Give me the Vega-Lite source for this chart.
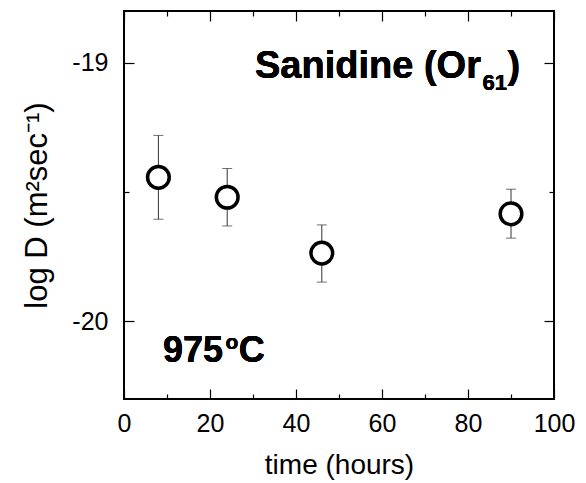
{
  "$schema": "https://vega.github.io/schema/vega-lite/v6.json",
  "width": 430,
  "height": 388,
  "autosize": {"type": "none"},
  "padding": {"left": 124, "top": 11, "right": 32, "bottom": 84},
  "background": "white",
  "config": {
    "view": {"stroke": "black", "strokeWidth": 2},
    "axis": {
      "domain": false,
      "grid": false,
      "labelFont": "Liberation Sans",
      "titleFont": "Liberation Sans",
      "labelColor": "black",
      "titleColor": "black",
      "tickColor": "black",
      "tickWidth": 1.2,
      "labelFontSize": 25,
      "titleFontSize": 28,
      "titleFontWeight": "normal"
    }
  },
  "data": {
    "values": [
      {"time": 8, "logD": -19.443, "lo": -19.605, "hi": -19.281},
      {"time": 24, "logD": -19.52, "lo": -19.631, "hi": -19.409},
      {"time": 46, "logD": -19.736, "lo": -19.848, "hi": -19.627},
      {"time": 90, "logD": -19.584, "lo": -19.678, "hi": -19.489}
    ]
  },
  "resolve": {"scale": {"x": "shared", "y": "shared"}, "axis": {"x": "independent", "y": "independent"}},
  "layer": [
    {
      "mark": {"type": "rule", "color": "#333", "strokeWidth": 1},
      "encoding": {
        "x": {
          "field": "time", "type": "quantitative",
          "scale": {"domain": [0, 100], "nice": false, "zero": false},
          "axis": {
            "orient": "bottom",
            "title": "time (hours)",
            "values": [0, 10, 20, 30, 40, 50, 60, 70, 80, 90, 100],
            "labelExpr": "datum.value % 20 === 0 ? datum.label : ''",
            "tickSize": {"condition": {"test": "datum.value % 20 === 0", "value": -10}, "value": -5},
            "labelPadding": 22,
            "titlePadding": 10,
            "labelFlush": false,
            "labelOverlap": false
          }
        },
        "y": {
          "field": "lo", "type": "quantitative",
          "scale": {"domain": [-20.3, -18.8], "nice": false, "zero": false},
          "axis": {
            "orient": "left",
            "title": "log D (m²sec⁻¹)",
            "titleFontSize": 31,
            "values": [-20, -19.5, -19],
            "labelExpr": "datum.value % 1 === 0 ? '-' + abs(datum.value) : ''",
            "tickSize": {"condition": {"test": "datum.value % 1 === 0", "value": -10}, "value": -5},
            "labelPadding": 26,
            "titlePadding": 18,
            "labelFlush": false,
            "labelOverlap": false
          }
        },
        "y2": {"field": "hi"}
      }
    },
    {
      "mark": {"type": "tick", "orient": "horizontal", "color": "#333", "thickness": 1, "size": 10},
      "encoding": {
        "x": {
          "field": "time", "type": "quantitative",
          "axis": {
            "orient": "top",
            "title": null,
            "labels": false,
            "values": [0, 10, 20, 30, 40, 50, 60, 70, 80, 90, 100],
            "tickSize": {"condition": {"test": "datum.value % 20 === 0", "value": -10}, "value": -5}
          }
        },
        "y": {
          "field": "lo", "type": "quantitative",
          "axis": {
            "orient": "right",
            "title": null,
            "labels": false,
            "values": [-20, -19.5, -19],
            "tickSize": {"condition": {"test": "datum.value % 1 === 0", "value": -10}, "value": -5}
          }
        }
      }
    },
    {
      "mark": {"type": "tick", "orient": "horizontal", "color": "#333", "thickness": 1, "size": 10},
      "encoding": {
        "x": {"field": "time", "type": "quantitative", "axis": null},
        "y": {"field": "hi", "type": "quantitative", "axis": null}
      }
    },
    {
      "mark": {"type": "point", "shape": "circle", "filled": false, "fill": "white", "fillOpacity": 1, "stroke": "black", "strokeWidth": 3.5, "size": 470, "opacity": 1},
      "encoding": {
        "x": {"field": "time", "type": "quantitative", "axis": null},
        "y": {"field": "logD", "type": "quantitative", "axis": null}
      }
    },
    {
      "mark": {"type": "text", "font": "Liberation Sans", "fontWeight": "bold", "fontSize": 38, "align": "left", "baseline": "alphabetic", "color": "black"},
      "encoding": {
        "x": {"datum": 30.47, "type": "quantitative", "axis": null},
        "y": {"datum": -19.058, "type": "quantitative", "axis": null},
        "text": {"value": "Sanidine (Or"}
      }
    },
    {
      "mark": {"type": "text", "font": "Liberation Sans", "fontWeight": "bold", "fontSize": 22, "align": "left", "baseline": "alphabetic", "color": "black"},
      "encoding": {
        "x": {"datum": 83.4, "type": "quantitative", "axis": null},
        "y": {"datum": -19.104, "type": "quantitative", "axis": null},
        "text": {"value": "61"}
      }
    },
    {
      "mark": {"type": "text", "font": "Liberation Sans", "fontWeight": "bold", "fontSize": 38, "align": "left", "baseline": "alphabetic", "color": "black"},
      "encoding": {
        "x": {"datum": 89.2, "type": "quantitative", "axis": null},
        "y": {"datum": -19.058, "type": "quantitative", "axis": null},
        "text": {"value": ")"}
      }
    },
    {
      "mark": {"type": "text", "font": "Liberation Sans", "fontWeight": "bold", "fontSize": 36, "align": "left", "baseline": "alphabetic", "color": "black"},
      "encoding": {
        "x": {"datum": 9.07, "type": "quantitative", "axis": null},
        "y": {"datum": -20.158, "type": "quantitative", "axis": null},
        "text": {"value": "975"}
      }
    },
    {
      "mark": {"type": "text", "font": "Liberation Sans", "fontWeight": "bold", "fontSize": 21, "align": "left", "baseline": "alphabetic", "color": "black"},
      "encoding": {
        "x": {"datum": 23.6, "type": "quantitative", "axis": null},
        "y": {"datum": -20.105, "type": "quantitative", "axis": null},
        "text": {"value": "o"}
      }
    },
    {
      "mark": {"type": "text", "font": "Liberation Sans", "fontWeight": "bold", "fontSize": 36, "align": "left", "baseline": "alphabetic", "color": "black"},
      "encoding": {
        "x": {"datum": 26.7, "type": "quantitative", "axis": null},
        "y": {"datum": -20.158, "type": "quantitative", "axis": null},
        "text": {"value": "C"}
      }
    }
  ]
}
